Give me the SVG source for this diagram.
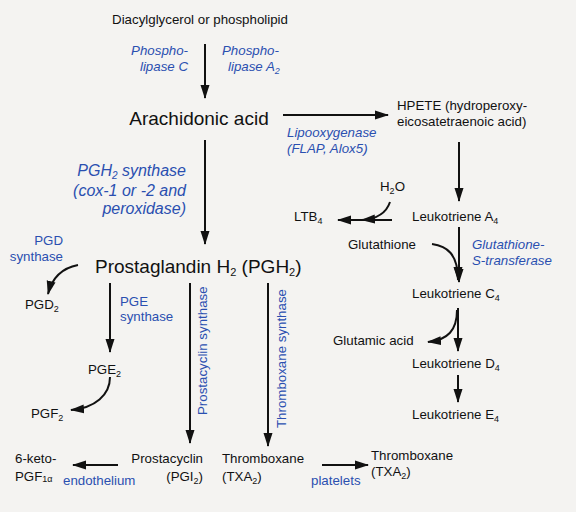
<svg xmlns="http://www.w3.org/2000/svg" width="576" height="512" viewBox="0 0 576 512">
<defs>
<marker id="ah" viewBox="0 0 14 10" refX="13" refY="5" markerWidth="14" markerHeight="10" markerUnits="userSpaceOnUse" orient="auto">
<path d="M0,0.5 L14,5 L0,9.5 Z" fill="#111"/>
</marker>
<style>
text{font-family:"Liberation Sans",Arial,sans-serif;fill:#111;font-size:13.3px}
.big{font-size:19px}
.b{fill:#2a4fb0}
.i{font-style:italic}
.e{font-size:16px}
.c{stroke:#111;stroke-width:2;fill:none;marker-end:url(#ah)}
</style>
</defs>
<rect width="576" height="512" fill="#f4f3f1"/>
<g id="connectors">
<path class="c" d="M205,44 V98"/>
<path class="c" d="M283,115 H388"/>
<path class="c" d="M205,140 V244"/>
<path class="c" d="M459,142 V201"/>
<path class="c" d="M392,220 H338"/>
<path class="c" d="M390,202 C386,214 376,219 362,220"/>
<path class="c" d="M459,227 V282"/>
<path class="c" d="M432,244 C447,246 458,254 458,280"/>
<path class="c" d="M458,308 V351"/>
<path class="c" d="M457,310 C457,330 448,340 428,342"/>
<path class="c" d="M458,375 V402"/>
<path class="c" d="M322,465 H368"/>
<path class="c" d="M78,265 C62,268 52,278 48,294"/>
<path class="c" d="M110,283 V352"/>
<path class="c" d="M110,377 C110,395 95,408 71,410"/>
<path class="c" d="M190,283 V443"/>
<path class="c" d="M268,283 V446"/>
<path class="c" d="M118,465 H73"/>
</g>
<g id="diacylglycerol"><text x="200" y="24" text-anchor="middle">Diacylglycerol or phospholipid</text></g>
<g id="plc"><text class="b i" text-anchor="end"><tspan x="188" y="55">Phospho-</tspan><tspan x="188" y="71">lipase C</tspan></text></g>
<g id="pla2"><text class="b i"><tspan x="222" y="55">Phospho-</tspan><tspan x="228" y="71">lipase A<tspan font-size="9" dy="3">2</tspan></tspan></text></g>
<g id="arachidonic"><text class="big" x="199" y="125" text-anchor="middle">Arachidonic acid</text></g>
<g id="hpete"><text><tspan x="397" y="110">HPETE (hydroperoxy-</tspan><tspan x="397" y="126">eicosatetraenoic acid)</tspan></text></g>
<g id="lipooxygenase"><text class="b i"><tspan x="287" y="137">Lipooxygenase</tspan><tspan x="287" y="153">(FLAP, Alox5)</tspan></text></g>
<g id="pgh2synthase"><text class="b i e" text-anchor="end"><tspan x="186" y="176">PGH<tspan font-size="10" dy="3">2</tspan><tspan dy="-3"> synthase</tspan></tspan><tspan x="186" y="196">(cox-1 or -2 and</tspan><tspan x="186" y="214">peroxidase)</tspan></text></g>
<g id="h2o"><text x="380" y="191">H<tspan font-size="9" dy="3">2</tspan><tspan dy="-3">O</tspan></text></g>
<g id="ltb4"><text x="294" y="221">LTB<tspan font-size="9" dy="3">4</tspan></text></g>
<g id="lta4"><text x="412" y="221">Leukotriene A<tspan font-size="9" dy="3">4</tspan></text></g>
<g id="glutathione"><text x="348" y="249">Glutathione</text></g>
<g id="gst"><text class="b i"><tspan x="472" y="249">Glutathione-</tspan><tspan x="472" y="265">S-transferase</tspan></text></g>
<g id="ltc4"><text x="412" y="298">Leukotriene C<tspan font-size="9" dy="3">4</tspan></text></g>
<g id="glutamic"><text x="333" y="345">Glutamic acid</text></g>
<g id="ltd4"><text x="412" y="368">Leukotriene D<tspan font-size="9" dy="3">4</tspan></text></g>
<g id="lte4"><text x="412" y="419">Leukotriene E<tspan font-size="9" dy="3">4</tspan></text></g>
<g id="pgdsynthase"><text class="b" text-anchor="end"><tspan x="63" y="245">PGD</tspan><tspan x="63" y="261">synthase</tspan></text></g>
<g id="pgh2"><text class="big" x="95" y="273">Prostaglandin H<tspan font-size="11" dy="3">2</tspan><tspan dy="-3"> (PGH</tspan><tspan font-size="11" dy="3">2</tspan><tspan dy="-3">)</tspan></text></g>
<g id="pgd2"><text x="25" y="309">PGD<tspan font-size="9" dy="3">2</tspan></text></g>
<g id="pgesynthase"><text class="b"><tspan x="120" y="306">PGE</tspan><tspan x="120" y="321">synthase</tspan></text></g>
<g id="pge2"><text x="88" y="374">PGE<tspan font-size="9" dy="3">2</tspan></text></g>
<g id="pgf2"><text x="31" y="418">PGF<tspan font-size="9" dy="3">2</tspan></text></g>
<g id="prostacyclinsynthase"><text class="b" transform="translate(207,415) rotate(-90)">Prostacyclin synthase</text></g>
<g id="thromboxanesynthase"><text class="b" transform="translate(286,428) rotate(-90)">Thromboxane synthase</text></g>
<g id="ketopgf"><text><tspan x="15" y="463">6-keto-</tspan><tspan x="15" y="481">PGF<tspan font-size="9" dy="1">1α</tspan></tspan></text></g>
<g id="endothelium"><text class="b" x="63" y="485">endothelium</text></g>
<g id="prostacyclin"><text text-anchor="end"><tspan x="203" y="463">Prostacyclin</tspan><tspan x="203" y="481">(PGI<tspan font-size="9" dy="3">2</tspan><tspan dy="-3">)</tspan></tspan></text></g>
<g id="thromboxane1"><text><tspan x="222" y="463">Thromboxane</tspan><tspan x="222" y="481">(TXA<tspan font-size="9" dy="3">2</tspan><tspan dy="-3">)</tspan></tspan></text></g>
<g id="platelets"><text class="b" x="311" y="485">platelets</text></g>
<g id="thromboxane2"><text><tspan x="371" y="460">Thromboxane</tspan><tspan x="371" y="476">(TXA<tspan font-size="9" dy="3">2</tspan><tspan dy="-3">)</tspan></tspan></text></g>
</svg>
